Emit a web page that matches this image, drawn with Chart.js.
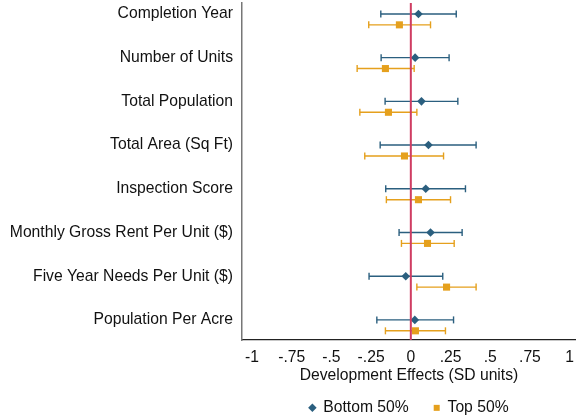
<!DOCTYPE html>
<html>
<head>
<meta charset="utf-8">
<script src="https://cdn.jsdelivr.net/npm/chart.js@4/dist/chart.umd.min.js"></script>
<style>
  html, body { margin: 0; padding: 0; background: #fff; }
  #wrap { width: 576px; height: 420px; }
</style>
</head>
<body>
<div id="wrap"><canvas id="coef"></canvas></div>
<script>
const categories = [
  'Completion Year',
  'Number of Units',
  'Total Population',
  'Total Area (Sq Ft)',
  'Inspection Score',
  'Monthly Gross Rent Per Unit ($)',
  'Five Year Needs Per Unit ($)',
  'Population Per Acre'
]
const bottomEst = [0.048, 0.027, 0.067, 0.111, 0.094, 0.124, -0.032, 0.025]
const bottomLo = [-0.189, -0.187, -0.162, -0.193, -0.158, -0.074, -0.263, -0.214]
const bottomHi = [0.286, 0.241, 0.296, 0.411, 0.344, 0.323, 0.201, 0.269]
const topEst = [-0.072, -0.160, -0.141, -0.040, 0.048, 0.105, 0.225, 0.029]
const topLo = [-0.265, -0.338, -0.321, -0.290, -0.154, -0.059, 0.038, -0.160]
const topHi = [0.124, 0.021, 0.038, 0.206, 0.250, 0.273, 0.411, 0.218]
const xTicks = [-1, -0.75, -0.5, -0.25, 0, 0.25, 0.5, 0.75, 1]
const xTickLabels = ['-1', '-.75', '-.5', '-.25', '0', '.25', '.5', '.75', '1']

const blue = '#2b5f7f'
const orange = '#e5a01d'
const yMin = -0.25
const yMax = 7.46
const topOffset = 0.25

// CI segments: pairs of points, broken by gaps
const ciData = (lo, hi, off) => {
  const out = []
  lo.forEach((v, i) => {
    out.push({ x: v, y: i + off }, { x: hi[i], y: i + off }, { x: null, y: null })
  })
  return out
}
const pts = (est, off) => est.map((v, i) => ({ x: v, y: i + off }))

const font = { family: '"Liberation Sans", Arial, Helvetica, sans-serif', size: 15.7 }

// keep the legend low and compact while leaving wide gaps between items
const legendHeight = {
  id: 'legendHeight',
  afterInit(chart) {
    const lg = chart.legend
    const fit = lg.fit
    lg.fit = function () { fit.call(this); this.height = 45 }
  }
}

new Chart(document.getElementById('coef'), {
  type: 'scatter',
  plugins: [legendHeight],
  data: {
    datasets: [
      {
        label: 'zero',
        data: [{ x: 0, y: yMin }, { x: 0, y: yMax }],
        showLine: true,
        borderColor: '#cf3d62',
        borderWidth: 2,
        pointRadius: 0
      },
      {
        label: 'ciBottom',
        data: ciData(bottomLo, bottomHi, 0),
        showLine: true,
        spanGaps: false,
        borderColor: blue,
        borderWidth: 1.4,
        pointStyle: 'line',
        rotation: 90,
        pointRadius: 3.5,
        pointBorderColor: blue,
        pointBorderWidth: 1.4
      },
      {
        label: 'ciTop',
        data: ciData(topLo, topHi, topOffset),
        showLine: true,
        spanGaps: false,
        borderColor: orange,
        borderWidth: 1.4,
        pointStyle: 'line',
        rotation: 90,
        pointRadius: 3.5,
        pointBorderColor: orange,
        pointBorderWidth: 1.4
      },
      {
        label: 'Bottom 50%',
        data: pts(bottomEst, 0),
        pointStyle: 'rectRot',
        pointRadius: 4.3,
        backgroundColor: blue,
        borderColor: blue,
        borderWidth: 0
      },
      {
        label: 'Top 50%',
        data: pts(topEst, topOffset),
        pointStyle: 'rect',
        pointRadius: 5,
        backgroundColor: orange,
        borderColor: orange,
        borderWidth: 0
      }
    ]
  },
  options: {
    responsive: true,
    maintainAspectRatio: false,
    animation: false,
    layout: { autoPadding: false, padding: { top: 3, right: 0, bottom: 0, left: 0 } },
    plugins: {
      tooltip: { enabled: false },
      legend: {
        position: 'bottom',
        fullSize: false,
        labels: {
          filter: (item) => item.text === 'Bottom 50%' || item.text === 'Top 50%',
          usePointStyle: true,
          boxWidth: 6,
          boxHeight: 6,
          padding: 25,
          color: '#111',
          font: font
        }
      }
    },
    scales: {
      x: {
        type: 'linear',
        min: -1.063,
        max: 1.04,
        afterBuildTicks: (scale) => { scale.ticks = xTicks.map(v => ({ value: v })) },
        afterFit: (scale) => {
          scale.height = 35
          scale.paddingLeft = 0
          scale.paddingRight = 0
        },
        grid: { display: false, drawTicks: true, tickLength: 5, tickColor: '#222' },
        border: { display: true, color: '#222', width: 1.3 },
        ticks: {
          color: '#111',
          font: font,
          padding: 3,
          maxRotation: 0,
          autoSkip: false,
          callback: (v) => xTickLabels[xTicks.indexOf(v)]
        },
        title: {
          display: true,
          text: 'Development Effects (SD units)',
          color: '#111',
          font: font,
          padding: { top: 0, bottom: -10.4 }
        }
      },
      y: {
        type: 'linear',
        reverse: true,
        min: yMin,
        max: yMax,
        afterBuildTicks: (scale) => { scale.ticks = categories.map((c, i) => ({ value: i })) },
        afterFit: (scale) => {
          scale.width = 242
          scale.paddingTop = 0
          scale.paddingBottom = 0
        },
        grid: { display: false, drawTicks: true, tickLength: 6, tickColor: '#222' },
        border: { display: true, color: '#777', width: 1.5 },
        ticks: {
          color: '#111',
          font: font,
          padding: 3,
          autoSkip: false,
          callback: (v) => categories[v]
        }
      }
    }
  }
})
</script>
</body>
</html>
